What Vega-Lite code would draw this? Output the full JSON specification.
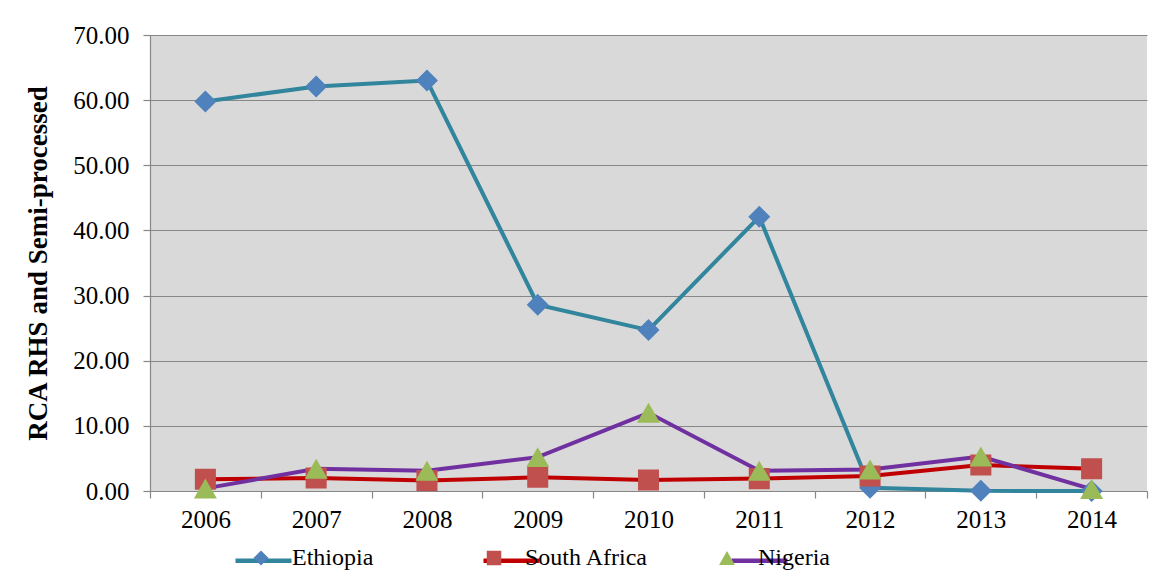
{
  "$schema": "https://vega.github.io/schema/vega-lite/v6.json",
  "autosize": {"type": "none"},
  "padding": {"left": 150, "top": 35, "right": 18, "bottom": 88},
  "width": 997,
  "height": 456,
  "background": "#ffffff",
  "config": {
    "font": "Liberation Serif",
    "view": {"fill": "#d9d9d9", "stroke": null},
    "axis": {
      "domainColor": "#878787",
      "tickColor": "#878787",
      "gridColor": "#878787",
      "domainWidth": 1.2,
      "tickWidth": 1.2,
      "gridWidth": 1.2,
      "labelColor": "#000000",
      "labelFont": "Liberation Serif",
      "labelFontSize": 25,
      "tickSize": 7
    },
    "style": {"guide-label": {"font": "Liberation Serif"}, "guide-title": {"font": "Liberation Serif"}}
  },
  "data": {
    "values": [
      {"country": "Ethiopia", "year": "2006", "rca": 59.8},
      {"country": "Ethiopia", "year": "2007", "rca": 62.1},
      {"country": "Ethiopia", "year": "2008", "rca": 63.0},
      {"country": "Ethiopia", "year": "2009", "rca": 28.6},
      {"country": "Ethiopia", "year": "2010", "rca": 24.7},
      {"country": "Ethiopia", "year": "2011", "rca": 42.1},
      {"country": "Ethiopia", "year": "2012", "rca": 0.5},
      {"country": "Ethiopia", "year": "2013", "rca": 0.02},
      {"country": "Ethiopia", "year": "2014", "rca": 0.0},
      {"country": "South Africa", "year": "2006", "rca": 1.8},
      {"country": "South Africa", "year": "2007", "rca": 2.0},
      {"country": "South Africa", "year": "2008", "rca": 1.6},
      {"country": "South Africa", "year": "2009", "rca": 2.1},
      {"country": "South Africa", "year": "2010", "rca": 1.7},
      {"country": "South Africa", "year": "2011", "rca": 1.9},
      {"country": "South Africa", "year": "2012", "rca": 2.3},
      {"country": "South Africa", "year": "2013", "rca": 4.0},
      {"country": "South Africa", "year": "2014", "rca": 3.4},
      {"country": "Nigeria", "year": "2006", "rca": 0.4},
      {"country": "Nigeria", "year": "2007", "rca": 3.4},
      {"country": "Nigeria", "year": "2008", "rca": 3.1},
      {"country": "Nigeria", "year": "2009", "rca": 5.2},
      {"country": "Nigeria", "year": "2010", "rca": 12.0},
      {"country": "Nigeria", "year": "2011", "rca": 3.1},
      {"country": "Nigeria", "year": "2012", "rca": 3.3},
      {"country": "Nigeria", "year": "2013", "rca": 5.3},
      {"country": "Nigeria", "year": "2014", "rca": 0.3}
    ]
  },
  "encoding": {
    "x": {
      "field": "year",
      "type": "ordinal",
      "scale": {"type": "band", "paddingInner": 0, "paddingOuter": 0},
      "axis": {
        "title": null,
        "labelAngle": 0,
        "labelFont": "Liberation Serif",
        "labelFontSize": 25,
        "labelColor": "#000000",
        "tickBand": "extent",
        "labelPadding": 9,
        "grid": false
      }
    },
    "y": {
      "field": "rca",
      "type": "quantitative",
      "scale": {"domain": [0, 70], "nice": false, "zero": true},
      "axis": {
        "values": [0, 10, 20, 30, 40, 50, 60, 70],
        "format": ".2f",
        "grid": true,
        "labelFont": "Liberation Serif",
        "labelFontSize": 25,
        "labelColor": "#000000",
        "labelPadding": 14,
        "title": "RCA RHS and Semi-processed",
        "titleFont": "Liberation Serif",
        "titleFontSize": 27,
        "titleFontWeight": "bold",
        "titleColor": "#000000",
        "titlePadding": 20
      }
    }
  },
  "layer": [
    {
      "mark": {"type": "line", "strokeWidth": 4, "interpolate": "linear"},
      "encoding": {
        "color": {
          "field": "country",
          "type": "nominal",
          "sort": ["Ethiopia", "South Africa", "Nigeria"],
          "scale": {"range": ["#31859c", "#c00000", "#7030a0"]},
          "legend": {
            "title": null,
            "orient": "none",
            "legendX": 83,
            "legendY": 495,
            "direction": "horizontal",
            "columns": 3,
            "gridAlign": "all",
            "columnPadding": 173,
            "padding": 0,
            "symbolType": "stroke",
            "symbolSize": 3136,
            "symbolStrokeWidth": 4.5,
            "labelFont": "Liberation Serif",
            "labelFontSize": 24,
            "labelOffset": 3,
            "labelExpr": "''",
            "labelLimit": 0,
            "zindex": 1
          }
        }
      }
    },
    {
      "mark": {"type": "point", "filled": true, "size": 6593, "opacity": 1, "strokeWidth": 0},
      "encoding": {
        "fill": {
          "field": "country",
          "type": "nominal",
          "scale": {
            "domain": ["Ethiopia", "South Africa", "Nigeria"],
            "range": ["#4f81bd", "#c0504d", "#9bbb59"]
          },
          "legend": {
            "title": null,
            "orient": "none",
            "legendX": 83,
            "legendY": 495,
            "direction": "horizontal",
            "columns": 3,
            "gridAlign": "all",
            "columnPadding": 50,
            "padding": 0,
            "symbolSize": 3136,
            "symbolStrokeWidth": 0,
            "labelFont": "Liberation Serif",
            "labelFontSize": 24,
            "labelColor": "#000000",
            "labelOffset": 3,
            "labelLimit": 0,
            "zindex": 2
          }
        },
        "shape": {
          "field": "country",
          "type": "nominal",
          "scale": {
            "domain": ["Ethiopia", "South Africa", "Nigeria"],
            "range": [
              "M-1,0L-1,0M1,0L1,0M0,-0.271L0.271,0L0,0.271L-0.271,0Z",
              "M-1,0L-1,0M1,0L1,0M-0.259,-0.259H0.259V0.259H-0.259Z",
              "M-1,0L-1,0M1,0L1,0M0,-0.246L0.283,0.246H-0.283Z"
            ]
          },
          "legend": {
            "title": null,
            "orient": "none",
            "legendX": 83,
            "legendY": 495,
            "direction": "horizontal",
            "columns": 3,
            "gridAlign": "all",
            "columnPadding": 50,
            "padding": 0,
            "symbolSize": 3136,
            "symbolStrokeWidth": 0,
            "labelFont": "Liberation Serif",
            "labelFontSize": 24,
            "labelColor": "#000000",
            "labelOffset": 3,
            "labelLimit": 0,
            "zindex": 2
          }
        }
      }
    }
  ]
}
